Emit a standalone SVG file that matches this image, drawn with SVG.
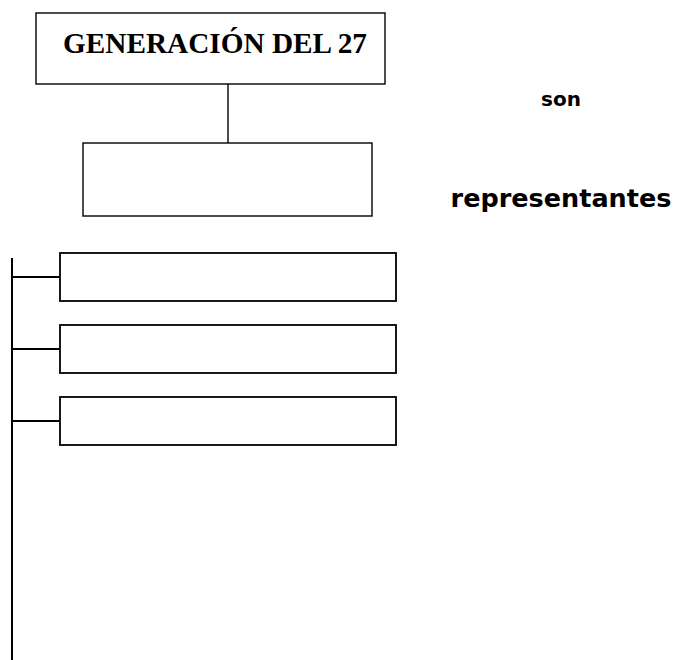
<svg xmlns="http://www.w3.org/2000/svg" width="675" height="660" viewBox="0 0 675 660">
<style>
.box{fill:#fff;stroke:#000;stroke-width:1.4}
.box2{fill:#fff;stroke:#000;stroke-width:1.8}
.ln{stroke:#000;stroke-width:1.4;fill:none}
.ln2{stroke:#000;stroke-width:2;fill:none}
.title{font-family:"Liberation Serif",serif;font-weight:bold;font-size:29px;fill:#000}
.lbl{font-family:"DejaVu Sans",sans-serif;font-weight:bold;fill:#000;text-anchor:middle}
</style>
<rect width="675" height="660" fill="#fff"/>
<g id="connectors">
<line class="ln" x1="228" y1="84" x2="228" y2="143"/>
<line class="ln2" x1="12" y1="258" x2="12" y2="660"/>
<line class="ln2" x1="12" y1="277" x2="60" y2="277"/>
<line class="ln2" x1="12" y1="349" x2="60" y2="349"/>
<line class="ln2" x1="12" y1="421" x2="60" y2="421"/>
</g>
<g id="node-generacion">
<rect class="box" x="36" y="13" width="349" height="71"/>
<text class="title" x="63" y="53" textLength="304" lengthAdjust="spacingAndGlyphs">GENERACIÓN DEL 27</text>
</g>
<g id="node-empty">
<rect class="box" x="83" y="143" width="289" height="73"/>
</g>
<g id="node-rep1">
<rect class="box2" x="60" y="253" width="336" height="48"/>
</g>
<g id="node-rep2">
<rect class="box2" x="60" y="325" width="336" height="48"/>
</g>
<g id="node-rep3">
<rect class="box2" x="60" y="397" width="336" height="48"/>
</g>
<g id="labels">
<text class="lbl" x="561" y="106" font-size="20">son</text>
<text class="lbl" x="561" y="207" font-size="25.5">representantes</text>
</g>
</svg>
